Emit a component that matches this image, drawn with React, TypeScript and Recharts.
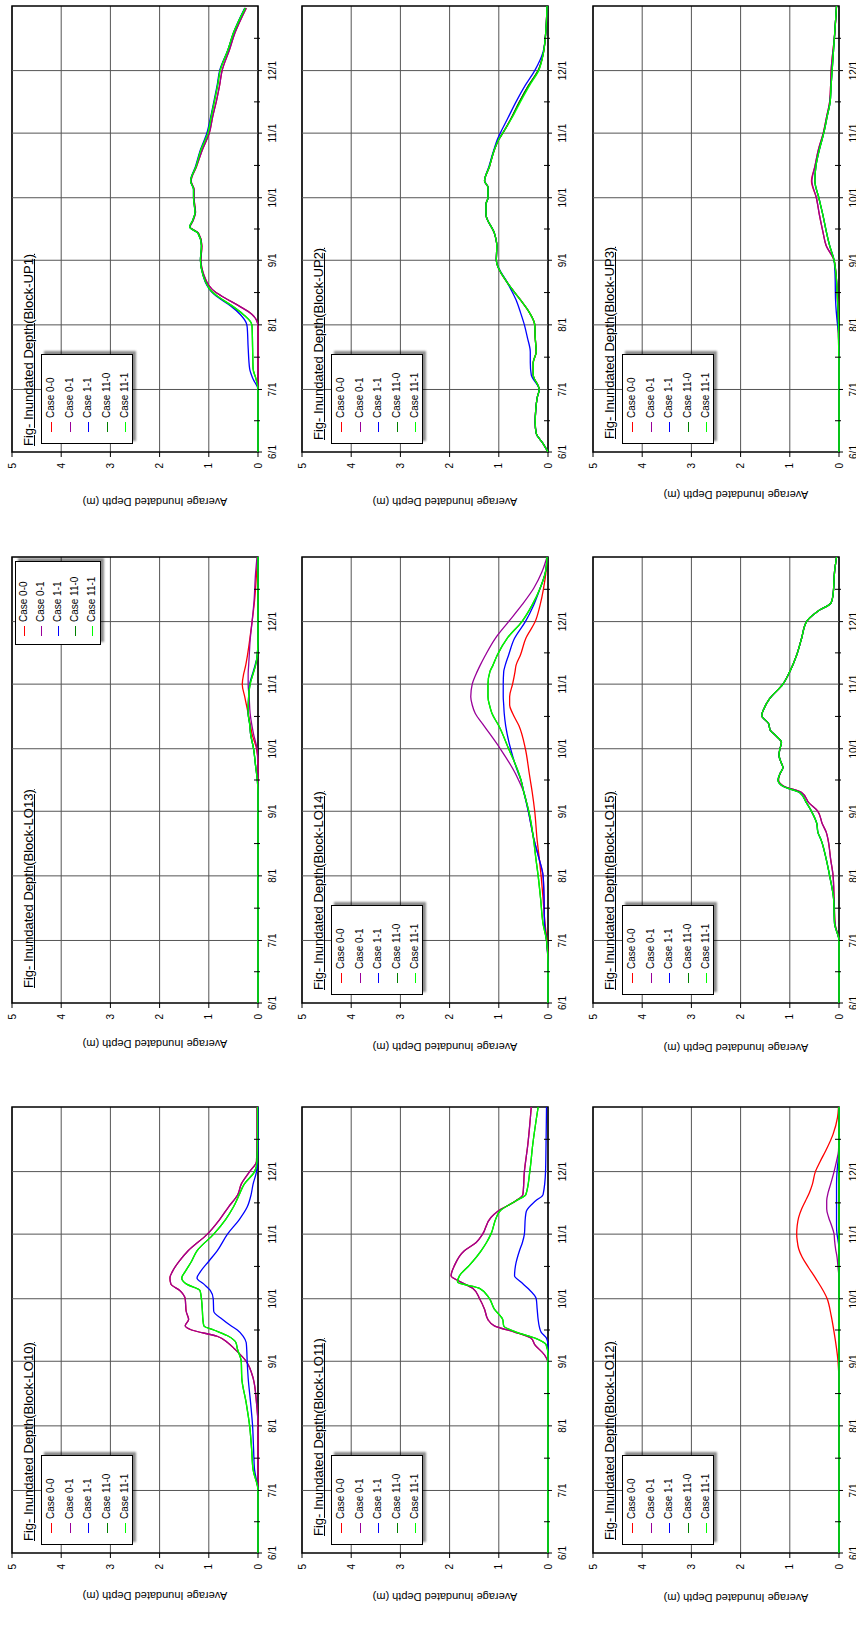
import React from 'react'
import { LineChart, Line, XAxis, YAxis, CartesianGrid, ReferenceLine, ReferenceArea, Legend } from 'recharts'

// Nine rotated panels: average inundated depth per block, Jun–Dec.
// x is "days since 6/1", y is depth in metres.

const CASES = ['Case 0-0', 'Case 0-1', 'Case 1-1', 'Case 11-0', 'Case 11-1']
const CASE_COLORS = ['#ff0000', '#990099', '#0000ff', '#008000', '#00ff00']
const MONTH_DAYS = [0, 30, 61, 92, 122, 153, 183]
const MONTH_LABELS = ['6/1', '7/1', '8/1', '9/1', '10/1', '11/1', '12/1']
const MID_MONTH_DAYS = [15, 45.5, 76.5, 107, 137.5, 168, 198.5]
const DEPTH_TICKS = [0, 1, 2, 3, 4, 5]
const Y_LABEL = 'Average Inundated Depth (m)'

// --- Block-UP1
const UP1_DAYS = [0, 30, 35, 40, 50, 60, 62, 66, 70, 74, 77, 80, 85, 92, 99, 105, 108, 111, 115, 122, 126, 130, 137, 145, 153, 161, 169, 176, 183, 193, 201, 213]
const UP1_CASE00 = [0, 0, 0, 0, 0, 0, 0.01, 0.12, 0.38, 0.68, 0.88, 1.0, 1.1, 1.16, 1.14, 1.21, 1.38, 1.32, 1.27, 1.3, 1.3, 1.36, 1.25, 1.13, 0.99, 0.92, 0.84, 0.78, 0.73, 0.58, 0.47, 0.24]
const UP1_CASE01 = [0, 0, 0, 0, 0, 0, 0.01, 0.12, 0.38, 0.68, 0.88, 1.0, 1.1, 1.16, 1.14, 1.21, 1.38, 1.32, 1.27, 1.3, 1.3, 1.36, 1.25, 1.13, 0.99, 0.92, 0.84, 0.78, 0.73, 0.58, 0.47, 0.24]
const UP1_CASE11 = [0, 0, 0.1, 0.17, 0.2, 0.22, 0.24, 0.36, 0.55, 0.8, 0.95, 1.04, 1.12, 1.17, 1.15, 1.22, 1.39, 1.33, 1.28, 1.31, 1.31, 1.37, 1.27, 1.17, 1.04, 0.96, 0.89, 0.83, 0.78, 0.61, 0.5, 0.27]
const UP1_CASE110 = [0, 0, 0.04, 0.1, 0.11, 0.12, 0.14, 0.3, 0.52, 0.78, 0.94, 1.03, 1.12, 1.17, 1.15, 1.22, 1.39, 1.33, 1.28, 1.31, 1.31, 1.37, 1.26, 1.16, 1.02, 0.95, 0.88, 0.82, 0.77, 0.61, 0.5, 0.26]
const UP1_CASE111 = [0, 0, 0.04, 0.1, 0.11, 0.12, 0.14, 0.3, 0.52, 0.78, 0.94, 1.03, 1.12, 1.17, 1.15, 1.22, 1.39, 1.33, 1.28, 1.31, 1.31, 1.37, 1.26, 1.16, 1.02, 0.95, 0.88, 0.82, 0.77, 0.61, 0.5, 0.26]

// --- Block-LO13
const LO13_DAYS = [0, 100, 106, 114, 122, 129, 134, 139, 147, 153, 158, 162, 166, 174, 183, 193, 206, 214]
const LO13_CASE00 = [0, 0, 0, 0, 0.03, 0.12, 0.16, 0.2, 0.27, 0.32, 0.29, 0.25, 0.22, 0.17, 0.12, 0.07, 0.03, 0.01]
const LO13_CASE01 = [0, 0, 0, 0, 0.02, 0.09, 0.13, 0.16, 0.18, 0.2, 0.2, 0.19, 0.18, 0.16, 0.12, 0.08, 0.05, 0.02]
const LO13_CASE11 = [0, 0, 0.01, 0.05, 0.09, 0.15, 0.17, 0.2, 0.19, 0.17, 0.11, 0.06, 0.02, 0, 0, 0, 0, 0]
const LO13_CASE110 = [0, 0, 0.01, 0.05, 0.09, 0.15, 0.17, 0.2, 0.19, 0.16, 0.1, 0.05, 0.02, 0, 0, 0, 0, 0]
const LO13_CASE111 = [0, 0, 0.01, 0.05, 0.09, 0.15, 0.17, 0.2, 0.19, 0.16, 0.1, 0.05, 0.02, 0, 0, 0, 0, 0]

// --- Block-LO10
const LO10_DAYS = [0, 30, 40, 50, 61, 72, 84, 92, 98, 101, 104, 107, 109, 112, 116, 122, 126, 129, 132, 135, 140, 145, 153, 160, 166, 172, 177, 183, 188, 200, 214]
const LO10_CASE00 = [0, 0, 0, 0, 0, 0.03, 0.1, 0.24, 0.48, 0.62, 0.83, 1.35, 1.48, 1.41, 1.46, 1.48, 1.59, 1.77, 1.79, 1.74, 1.6, 1.42, 1.03, 0.78, 0.6, 0.41, 0.34, 0.17, 0.03, 0.02, 0.02]
const LO10_CASE01 = [0, 0, 0, 0, 0, 0.03, 0.1, 0.24, 0.48, 0.62, 0.83, 1.35, 1.48, 1.41, 1.46, 1.48, 1.59, 1.77, 1.79, 1.74, 1.6, 1.42, 1.03, 0.78, 0.6, 0.41, 0.34, 0.17, 0.03, 0.02, 0.02]
const LO10_CASE11 = [0, 0, 0.07, 0.09, 0.11, 0.15, 0.2, 0.22, 0.23, 0.24, 0.3, 0.42, 0.55, 0.72, 0.9, 0.91, 0.97, 1.1, 1.24, 1.17, 1.0, 0.83, 0.62, 0.38, 0.22, 0.14, 0.1, 0.03, 0.01, 0, 0]
const LO10_CASE110 = [0, 0, 0.1, 0.13, 0.17, 0.24, 0.33, 0.34, 0.42, 0.45, 0.6, 0.9, 1.1, 1.12, 1.13, 1.15, 1.18, 1.45, 1.55, 1.48, 1.35, 1.24, 0.9, 0.66, 0.5, 0.38, 0.28, 0.07, 0.02, 0.01, 0.01]
const LO10_CASE111 = [0, 0, 0.1, 0.13, 0.17, 0.24, 0.33, 0.34, 0.42, 0.45, 0.6, 0.9, 1.1, 1.12, 1.13, 1.15, 1.18, 1.45, 1.55, 1.48, 1.35, 1.24, 0.9, 0.66, 0.5, 0.38, 0.28, 0.07, 0.02, 0.01, 0.01]

// --- Block-UP2
const UP2_DAYS = [0, 4, 9, 14, 20, 26, 30, 37, 43, 48, 55, 61, 67, 73, 81, 92, 99, 105, 114, 119, 122, 127, 130, 137, 145, 150, 153, 160, 168, 176, 183, 192, 200, 214]
const UP2_CASE00 = [0, 0.1, 0.24, 0.26, 0.25, 0.22, 0.18, 0.3, 0.3, 0.24, 0.26, 0.27, 0.38, 0.56, 0.82, 1.05, 1.04, 1.09, 1.26, 1.26, 1.22, 1.22, 1.29, 1.19, 1.09, 1.0, 0.92, 0.75, 0.58, 0.39, 0.2, 0.09, 0.05, 0.02]
const UP2_CASE01 = [0, 0.1, 0.24, 0.26, 0.25, 0.22, 0.18, 0.3, 0.3, 0.24, 0.26, 0.27, 0.38, 0.56, 0.82, 1.05, 1.04, 1.09, 1.26, 1.26, 1.22, 1.22, 1.29, 1.19, 1.09, 1.0, 0.92, 0.75, 0.58, 0.39, 0.2, 0.09, 0.05, 0.02]
const UP2_CASE11 = [0, 0.1, 0.24, 0.26, 0.25, 0.22, 0.18, 0.34, 0.36, 0.36, 0.42, 0.48, 0.56, 0.65, 0.82, 1.05, 1.04, 1.09, 1.26, 1.26, 1.22, 1.22, 1.29, 1.2, 1.1, 1.03, 0.97, 0.82, 0.65, 0.46, 0.27, 0.1, 0.05, 0.02]
const UP2_CASE110 = [0, 0.1, 0.24, 0.26, 0.25, 0.22, 0.18, 0.3, 0.3, 0.24, 0.26, 0.27, 0.38, 0.56, 0.82, 1.05, 1.04, 1.09, 1.26, 1.26, 1.22, 1.22, 1.29, 1.19, 1.09, 1.0, 0.92, 0.75, 0.58, 0.39, 0.2, 0.09, 0.05, 0.02]
const UP2_CASE111 = [0, 0.1, 0.24, 0.26, 0.25, 0.22, 0.18, 0.3, 0.3, 0.24, 0.26, 0.27, 0.38, 0.56, 0.82, 1.05, 1.04, 1.09, 1.26, 1.26, 1.22, 1.22, 1.29, 1.19, 1.09, 1.0, 0.92, 0.74, 0.56, 0.37, 0.19, 0.09, 0.05, 0.02]

// --- Block-LO14
const LO14_DAYS = [0, 19, 30, 38, 50, 61, 70, 78, 92, 101, 107, 110, 122, 133, 139, 143, 147, 153, 159, 162, 167, 175, 183, 191, 199, 207, 214]
const LO14_CASE00 = [0, 0, 0.02, 0.06, 0.1, 0.14, 0.18, 0.22, 0.27, 0.32, 0.36, 0.38, 0.46, 0.59, 0.72, 0.78, 0.78, 0.72, 0.67, 0.65, 0.56, 0.45, 0.26, 0.16, 0.09, 0.04, 0.02]
const LO14_CASE01 = [0, 0, 0.03, 0.07, 0.08, 0.1, 0.19, 0.28, 0.4, 0.49, 0.6, 0.66, 0.97, 1.3, 1.48, 1.54, 1.57, 1.54, 1.44, 1.38, 1.27, 1.07, 0.8, 0.53, 0.29, 0.12, 0.02]
const LO14_CASE11 = [0, 0, 0.03, 0.07, 0.08, 0.1, 0.19, 0.28, 0.4, 0.49, 0.55, 0.6, 0.76, 0.86, 0.89, 0.9, 0.91, 0.91, 0.9, 0.87, 0.8, 0.68, 0.46, 0.29, 0.16, 0.05, 0.02]
const LO14_CASE110 = [0, 0, 0.03, 0.1, 0.15, 0.2, 0.25, 0.29, 0.39, 0.49, 0.55, 0.59, 0.8, 1.0, 1.14, 1.19, 1.22, 1.22, 1.18, 1.12, 1.03, 0.83, 0.53, 0.32, 0.16, 0.05, 0.02]
const LO14_CASE111 = [0, 0, 0.03, 0.1, 0.15, 0.2, 0.25, 0.29, 0.39, 0.49, 0.55, 0.59, 0.8, 1.0, 1.14, 1.19, 1.22, 1.22, 1.18, 1.12, 1.03, 0.83, 0.53, 0.32, 0.16, 0.05, 0.02]

// --- Block-LO11
const LO11_DAYS = [0, 91, 95, 100, 103, 106, 109, 112, 117, 122, 127, 130, 133, 138, 145, 149, 153, 161, 164, 169, 172, 183, 196, 214]
const LO11_CASE00 = [0, 0, 0.07, 0.27, 0.34, 0.68, 1.09, 1.22, 1.29, 1.39, 1.53, 1.77, 1.97, 1.9, 1.7, 1.46, 1.33, 1.16, 1.02, 0.65, 0.51, 0.48, 0.41, 0.34]
const LO11_CASE01 = [0, 0, 0.07, 0.27, 0.34, 0.68, 1.09, 1.22, 1.29, 1.39, 1.53, 1.77, 1.97, 1.9, 1.7, 1.46, 1.33, 1.16, 1.02, 0.65, 0.51, 0.48, 0.41, 0.34]
const LO11_CASE11 = [0, 0, 0, 0, 0.03, 0.14, 0.18, 0.2, 0.22, 0.24, 0.41, 0.55, 0.68, 0.66, 0.58, 0.52, 0.48, 0.46, 0.44, 0.25, 0.1, 0.05, 0.04, 0.03]
const LO11_CASE110 = [0, 0, 0, 0.04, 0.25, 0.65, 0.9, 0.92, 1.09, 1.19, 1.39, 1.84, 1.8, 1.6, 1.36, 1.25, 1.16, 1.05, 0.98, 0.65, 0.45, 0.37, 0.31, 0.2]
const LO11_CASE111 = [0, 0, 0, 0.04, 0.25, 0.65, 0.9, 0.92, 1.09, 1.19, 1.39, 1.84, 1.8, 1.6, 1.36, 1.25, 1.16, 1.05, 0.98, 0.65, 0.45, 0.37, 0.31, 0.2]

// --- Block-UP3
const UP3_DAYS = [0, 40, 57, 61, 73, 85, 92, 99, 106, 114, 122, 130, 137, 145, 153, 161, 168, 176, 183, 200, 214]
const UP3_CASE00 = [0, 0, 0.01, 0.02, 0.03, 0.06, 0.1, 0.26, 0.33, 0.4, 0.46, 0.56, 0.49, 0.42, 0.32, 0.25, 0.19, 0.17, 0.16, 0.09, 0.05]
const UP3_CASE01 = [0, 0, 0.01, 0.02, 0.03, 0.06, 0.1, 0.26, 0.33, 0.4, 0.46, 0.55, 0.49, 0.42, 0.32, 0.25, 0.19, 0.17, 0.16, 0.09, 0.05]
const UP3_CASE11 = [0, 0, 0.01, 0.03, 0.07, 0.08, 0.1, 0.19, 0.26, 0.33, 0.41, 0.49, 0.47, 0.4, 0.31, 0.24, 0.18, 0.16, 0.14, 0.09, 0.05]
const UP3_CASE110 = [0, 0, 0.01, 0.01, 0.03, 0.06, 0.1, 0.19, 0.26, 0.33, 0.41, 0.49, 0.47, 0.4, 0.31, 0.24, 0.18, 0.16, 0.14, 0.09, 0.05]
const UP3_CASE111 = [0, 0, 0.01, 0.01, 0.03, 0.06, 0.1, 0.19, 0.26, 0.33, 0.41, 0.49, 0.47, 0.4, 0.31, 0.24, 0.18, 0.16, 0.14, 0.09, 0.05]

// --- Block-LO15
const LO15_DAYS = [0, 30, 38, 50, 61, 69, 78, 82, 86, 92, 96, 101, 104, 107, 110, 113, 115, 119, 122, 125, 128, 131, 134, 138, 141, 146, 153, 159, 167, 175, 183, 188, 192, 196, 207, 214]
const LO15_CASE00 = [0, 0, 0.08, 0.1, 0.12, 0.17, 0.22, 0.26, 0.34, 0.43, 0.61, 0.76, 1.12, 1.23, 1.2, 1.14, 1.17, 1.22, 1.2, 1.17, 1.27, 1.4, 1.43, 1.57, 1.53, 1.41, 1.14, 1.0, 0.86, 0.76, 0.66, 0.43, 0.16, 0.12, 0.09, 0.05]
const LO15_CASE01 = [0, 0, 0.08, 0.1, 0.12, 0.17, 0.22, 0.26, 0.34, 0.43, 0.61, 0.76, 1.12, 1.23, 1.2, 1.14, 1.17, 1.22, 1.2, 1.17, 1.27, 1.4, 1.43, 1.57, 1.53, 1.41, 1.14, 1.0, 0.86, 0.76, 0.66, 0.43, 0.16, 0.12, 0.09, 0.05]
const LO15_CASE11 = [0, 0, 0.09, 0.11, 0.19, 0.26, 0.36, 0.43, 0.45, 0.56, 0.66, 0.8, 1.14, 1.24, 1.2, 1.14, 1.17, 1.22, 1.2, 1.17, 1.27, 1.4, 1.43, 1.57, 1.53, 1.41, 1.14, 1.0, 0.86, 0.76, 0.66, 0.43, 0.16, 0.12, 0.09, 0.05]
const LO15_CASE110 = [0, 0, 0.09, 0.11, 0.19, 0.26, 0.36, 0.43, 0.45, 0.56, 0.66, 0.8, 1.14, 1.24, 1.2, 1.14, 1.17, 1.22, 1.2, 1.17, 1.27, 1.4, 1.43, 1.57, 1.53, 1.41, 1.14, 1.0, 0.86, 0.76, 0.66, 0.43, 0.16, 0.12, 0.09, 0.05]
const LO15_CASE111 = [0, 0, 0.09, 0.11, 0.19, 0.26, 0.36, 0.43, 0.45, 0.56, 0.66, 0.8, 1.14, 1.24, 1.2, 1.14, 1.17, 1.22, 1.2, 1.17, 1.27, 1.4, 1.43, 1.57, 1.53, 1.41, 1.14, 1.0, 0.86, 0.76, 0.66, 0.43, 0.16, 0.12, 0.09, 0.05]

// --- Block-LO12
const LO12_DAYS = [0, 81, 92, 106, 114, 122, 132, 137, 142, 146, 150, 153, 157, 161, 165, 169, 173, 177, 183, 188, 193, 201, 209, 214]
const LO12_CASE00 = [0, 0, 0.02, 0.1, 0.16, 0.24, 0.48, 0.62, 0.75, 0.82, 0.85, 0.86, 0.85, 0.82, 0.76, 0.68, 0.6, 0.54, 0.48, 0.38, 0.27, 0.12, 0.03, 0.01]
const LO12_CASE01 = [0, 0, 0, 0, 0, 0, 0, 0.02, 0.04, 0.07, 0.09, 0.1, 0.15, 0.21, 0.25, 0.25, 0.22, 0.17, 0.1, 0.05, 0.01, 0, 0, 0]
const LO12_CASE11 = [0, 0, 0, 0, 0, 0, 0, 0, 0, 0, 0.02, 0.04, 0.05, 0.05, 0.05, 0.05, 0.05, 0.05, 0.04, 0.02, 0, 0, 0, 0]
const LO12_CASE110 = [0, 0, 0, 0, 0, 0, 0, 0, 0, 0, 0, 0, 0, 0, 0, 0, 0, 0, 0, 0, 0, 0, 0, 0]
const LO12_CASE111 = [0, 0, 0, 0, 0, 0, 0, 0, 0, 0, 0, 0, 0, 0, 0, 0, 0, 0, 0, 0, 0, 0, 0, 0]

const PANELS = [
  { title: 'Fig- Inundated Depth(Block-UP1)', col: 0, row: 0, titleAt: 6, labelAt: 10, legend: 'left', days: UP1_DAYS, values: [UP1_CASE00, UP1_CASE01, UP1_CASE11, UP1_CASE110, UP1_CASE111] },
  { title: 'Fig- Inundated Depth(Block-LO13)', col: 0, row: 1, titleAt: 15, labelAt: 19, legend: 'right', days: LO13_DAYS, values: [LO13_CASE00, LO13_CASE01, LO13_CASE11, LO13_CASE110, LO13_CASE111] },
  { title: 'Fig- Inundated Depth(Block-LO10)', col: 0, row: 2, titleAt: 12, labelAt: 17, legend: 'left', days: LO10_DAYS, values: [LO10_CASE00, LO10_CASE01, LO10_CASE11, LO10_CASE110, LO10_CASE111] },
  { title: 'Fig- Inundated Depth(Block-UP2)', col: 1, row: 0, titleAt: 12, labelAt: 10, legend: 'left', days: UP2_DAYS, values: [UP2_CASE00, UP2_CASE01, UP2_CASE11, UP2_CASE110, UP2_CASE111] },
  { title: 'Fig- Inundated Depth(Block-LO14)', col: 1, row: 1, titleAt: 13, labelAt: 16, legend: 'left', days: LO14_DAYS, values: [LO14_CASE00, LO14_CASE01, LO14_CASE11, LO14_CASE110, LO14_CASE111] },
  { title: 'Fig- Inundated Depth(Block-LO11)', col: 1, row: 2, titleAt: 17, labelAt: 16, legend: 'left', days: LO11_DAYS, values: [LO11_CASE00, LO11_CASE01, LO11_CASE11, LO11_CASE110, LO11_CASE111] },
  { title: 'Fig- Inundated Depth(Block-UP3)', col: 2, row: 0, titleAt: 13, labelAt: 17, legend: 'left', days: UP3_DAYS, values: [UP3_CASE00, UP3_CASE01, UP3_CASE11, UP3_CASE110, UP3_CASE111] },
  { title: 'Fig- Inundated Depth(Block-LO15)', col: 2, row: 1, titleAt: 13, labelAt: 15, legend: 'left', days: LO15_DAYS, values: [LO15_CASE00, LO15_CASE01, LO15_CASE11, LO15_CASE110, LO15_CASE111] },
  { title: 'Fig- Inundated Depth(Block-LO12)', col: 2, row: 2, titleAt: 13, labelAt: 15, legend: 'left', days: LO12_DAYS, values: [LO12_CASE00, LO12_CASE01, LO12_CASE11, LO12_CASE110, LO12_CASE111] },
]

// layout of one (unrotated) chart
const W = 512
const H = 284
const M_TOP = 8
const M_RIGHT = 6
const Y_W = 60
const X_H = 30
const PLOT_BOTTOM = H - X_H
const COL_LEFT = [4, 294, 585]
const ROW_TOP = [0, 551, 1101]
const FONT = '"Liberation Sans", Arial, sans-serif'

const LEGEND_BOX: Record<string, any> = {
  left: { left: Y_W + 8, top: M_TOP + 29, width: 90, height: 92, first: 9, gap: 18.5, line: 11 },
  right: { left: Y_W + 358, top: M_TOP + 3, width: 84, height: 86, first: 8, gap: 17, line: 8 },
}

function DateTick(props: any) {
  const { x, payload } = props
  const i = MONTH_DAYS.indexOf(payload.value)
  const major = i >= 0
  return (
    <g>
      <line x1={x} x2={x} y1={major ? PLOT_BOTTOM : PLOT_BOTTOM - 4} y2={PLOT_BOTTOM + (major ? 4 : 2)} stroke="#000" strokeWidth={1} />
      {major && (
        <text x={x} y={PLOT_BOTTOM + 17.5} textAnchor="middle" fontSize={10} fill="#000" fontFamily={FONT}>
          {MONTH_LABELS[i]}
        </text>
      )}
    </g>
  )
}

function LegendBox({ box }: { box: any }) {
  return (
    <div
      style={{
        position: 'relative',
        width: box.width,
        height: box.height,
        boxSizing: 'border-box',
        border: '1px solid #000',
        background: '#fff',
        boxShadow: '3px 3px 2px rgba(0,0,0,0.45)',
        fontFamily: FONT,
        fontSize: 10,
      }}
    >
      {CASES.map((c, i) => (
        <div key={c} style={{ position: 'absolute', left: 0, top: box.first + i * box.gap - 7, height: 14, lineHeight: '14px', whiteSpace: 'nowrap' }}>
          <span style={{ position: 'absolute', left: box.line, top: 7, width: 10, height: 0, borderTop: `1.3px solid ${CASE_COLORS[i]}` }} />
          <span style={{ position: 'absolute', left: box.line + 14, top: 0 }}>{c}</span>
        </div>
      ))}
    </div>
  )
}

function DepthPanel({ p }: { p: (typeof PANELS)[number] }) {
  const data = p.days.map((day, i) => ({
    day,
    c0: p.values[0][i],
    c1: p.values[1][i],
    c2: p.values[2][i],
    c3: p.values[3][i],
    c4: p.values[4][i],
  }))
  const box = LEGEND_BOX[p.legend]
  return (
    <div
      style={{
        position: 'absolute',
        left: COL_LEFT[p.col],
        top: ROW_TOP[p.row],
        width: W,
        height: H,
        transformOrigin: '0 0',
        transform: `translateY(${W}px) rotate(-90deg)`,
        fontFamily: FONT,
      }}
    >
      <LineChart width={W} height={H} data={data} margin={{ top: M_TOP, right: M_RIGHT, bottom: 0, left: 0 }} style={{ fontFamily: FONT }}>
        <CartesianGrid vertical={false} stroke="#555" strokeWidth={1} />
        {MONTH_DAYS.slice(1).map((d) => (
          <ReferenceLine key={d} x={d} stroke="#555" strokeWidth={1} />
        ))}
        <XAxis
          dataKey="day"
          type="number"
          domain={[0, 214]}
          ticks={[...MONTH_DAYS, ...MID_MONTH_DAYS]}
          interval={0}
          tick={(t: any) => <DateTick {...t} />}
          tickLine={false}
          axisLine={false}
          height={X_H}
        />
        <YAxis
          type="number"
          domain={[0, 5]}
          ticks={DEPTH_TICKS}
          interval={0}
          width={Y_W}
          tickSize={5}
          tickMargin={6}
          tick={{ fontSize: 10, fill: '#000', fontFamily: FONT }}
          tickLine={{ stroke: '#000' }}
          axisLine={false}
        />
        <ReferenceArea x1={0} x2={214} y1={0} y2={5} fill="none" stroke="#000" strokeWidth={1.5} />
        {CASES.map((c, i) => (
          <Line
            key={c}
            name={c}
            dataKey={`c${i}`}
            type="monotone"
            stroke={CASE_COLORS[i]}
            strokeWidth={1.3}
            dot={false}
            isAnimationActive={false}
          />
        ))}
        <Legend
          layout="vertical"
          align="center"
          verticalAlign="middle"
          wrapperStyle={{ left: box.left, top: box.top, width: box.width, height: box.height }}
          content={() => <LegendBox box={box} />}
        />
      </LineChart>
      <div
        style={{
          position: 'absolute',
          left: Y_W + p.titleAt,
          top: M_TOP + 10,
          fontSize: 13,
          lineHeight: '13px',
          whiteSpace: 'nowrap',
          textDecoration: 'underline',
          color: '#000',
        }}
      >
        {p.title}
      </div>
      <div
        style={{
          position: 'absolute',
          left: p.labelAt - 100,
          top: 151 - 7,
          width: 200,
          height: 14,
          lineHeight: '14px',
          fontSize: 11,
          textAlign: 'center',
          whiteSpace: 'nowrap',
          transform: 'rotate(-90deg)',
          color: '#000',
        }}
      >
        {Y_LABEL}
      </div>
    </div>
  )
}

export default function App() {
  return (
    <div style={{ position: 'absolute', left: 0, top: 0, width: 856, height: 1645, background: '#fff', overflow: 'hidden' }}>
      {PANELS.map((p) => (
        <DepthPanel key={p.title} p={p} />
      ))}
    </div>
  )
}
